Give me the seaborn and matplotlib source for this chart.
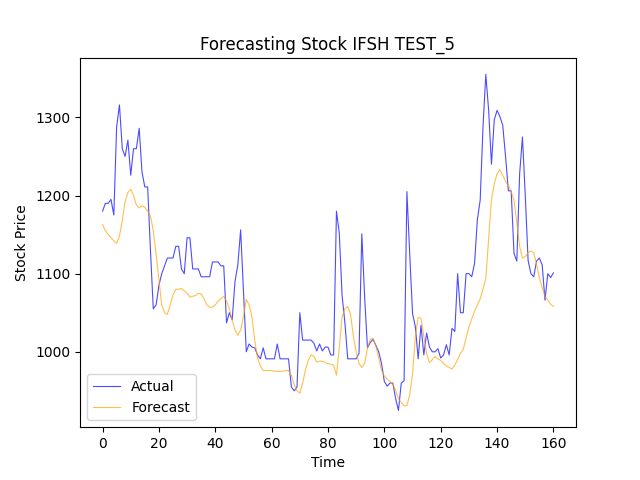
import matplotlib
matplotlib.use("Agg")
import matplotlib.pyplot as plt
import seaborn as sns
import numpy as np

# values (one per time step, 0..160)
actual = [1180, 1190, 1190, 1195, 1175, 1288, 1316, 1260, 1250, 1271,
          1226, 1260, 1260, 1286, 1230, 1211, 1211, 1130, 1055, 1060,
          1085, 1100, 1110, 1120, 1120, 1120, 1135, 1135, 1106, 1100,
          1146, 1146, 1106, 1106, 1106, 1096, 1096, 1096, 1096, 1115,
          1115, 1115, 1110, 1110, 1037, 1050, 1041, 1090, 1111, 1156,
          1078, 1000, 1010, 1006, 1005, 996, 991, 1005, 991, 991,
          991, 991, 1010, 991, 991, 991, 991, 955, 950, 955,
          1050, 1015, 1015, 1015, 1015, 1011, 1001, 1010, 1001, 1006,
          1006, 996, 996, 1180, 1152, 1072, 1037, 991, 991, 991,
          991, 998, 1151, 1070, 1005, 1012, 1016, 1008, 1000, 985,
          962, 956, 960, 960, 940, 925, 960, 963, 1205, 1125,
          1049, 1032, 991, 1034, 996, 1024, 1006, 1000, 1000, 1004,
          992, 996, 1009, 996, 1030, 1026, 1100, 1050, 1050, 1100,
          1100, 1096, 1113, 1169, 1194, 1288, 1355, 1309, 1240, 1297,
          1309, 1301, 1290, 1250, 1206, 1206, 1126, 1116, 1228, 1275,
          1200, 1117, 1100, 1096, 1116, 1120, 1111, 1066, 1100, 1095,
          1101]

forecast = [1163, 1155, 1150, 1146, 1142, 1139, 1148, 1168, 1192, 1204,
            1208, 1200, 1188, 1184, 1187, 1185, 1180, 1174, 1155, 1125,
            1093, 1060, 1050, 1048, 1060, 1073, 1080, 1080, 1081, 1078,
            1075, 1070, 1071, 1072, 1075, 1074, 1068, 1060, 1057, 1057,
            1060, 1065, 1068, 1071, 1065, 1055, 1040, 1028, 1021, 1028,
            1045, 1067, 1060, 1045, 1015, 992, 982, 976, 976, 976,
            976, 975, 975, 975, 975, 976, 976, 970, 958, 950,
            947, 960, 977, 989, 996, 994, 987, 988, 988, 986,
            985, 984, 983, 970, 1005, 1045, 1055, 1058, 1048, 1020,
            1000, 985, 980, 985, 1005, 1016, 1017, 1007, 992, 976,
            969, 965, 962, 958, 951, 940, 935, 931, 931, 945,
            972, 1020, 1044, 1043, 1020, 998, 986, 990, 994, 991,
            989, 985, 982, 980, 978, 983, 990, 998, 1003, 1018,
            1032, 1042, 1052, 1060, 1068, 1080, 1094, 1145, 1195, 1215,
            1228, 1233, 1226, 1218, 1213, 1205, 1194, 1165, 1135, 1120,
            1122, 1127, 1129, 1127, 1112, 1095, 1082, 1071, 1066, 1061,
            1058]

time = np.arange(len(actual))

fig, ax = plt.subplots(figsize=(6.4, 4.8), dpi=100)
sns.lineplot(x=time, y=actual, color="blue", alpha=0.7, linewidth=0.8,
             label="Actual", ax=ax)
sns.lineplot(x=time, y=forecast, color="orange", alpha=0.7, linewidth=0.8,
             label="Forecast", ax=ax)

ax.set_title("Forecasting Stock IFSH TEST_5")
ax.set_xlabel("Time")
ax.set_ylabel("Stock Price")
ax.legend(loc="lower left")

fig.savefig("out.png")
